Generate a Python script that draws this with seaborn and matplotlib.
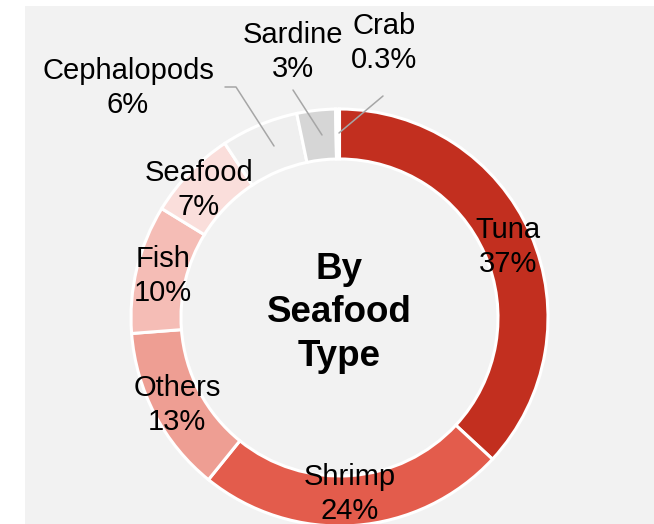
import matplotlib
matplotlib.use("Agg")
import matplotlib.pyplot as plt
import seaborn as sns

# Seafood share by type, clockwise from 12 o'clock
categories = ["Tuna", "Shrimp", "Others", "Fish", "Seafood", "Cephalopods", "Sardine", "Crab"]
shares = [37, 24, 13, 10, 7, 6, 3, 0.3]
share_labels = ["37%", "24%", "13%", "10%", "7%", "6%", "3%", "0.3%"]

sns.set_style("white")
plt.rcParams["font.family"] = ["Liberation Sans", "DejaVu Sans"]

palette = sns.color_palette(["#c22f1f", "#e35c4c", "#ee9e93", "#f5bdb6",
                             "#fadedb", "#efefef", "#d6d6d6", "#ffffff"])

W, H = 654, 524
fig = plt.figure(figsize=(W / 100, H / 100), dpi=100)
fig.patch.set_facecolor("white")

# grey panel behind the chart
bg = fig.add_axes([25 / W, 0, (W - 25) / W, (H - 6) / H])
bg.set_facecolor("#f2f2f2")
bg.set_xticks([])
bg.set_yticks([])
for s in bg.spines.values():
    s.set_visible(False)

# drawing axes in pixel units (y measured from the top)
ax = fig.add_axes([0, 0, 1, 1])
ax.patch.set_alpha(0)


def py(y):
    return H - y


cx, cy, r_out = 339.5, 317.5, 208.5
ring = 50

ax.pie(shares, colors=palette, startangle=90, counterclock=False,
       radius=r_out, center=(cx, py(cy)),
       wedgeprops=dict(width=ring, edgecolor="white", linewidth=2.2))
ax.set_xlim(0, W)
ax.set_ylim(0, H)
ax.set_aspect("auto")
ax.axis("off")

# label block centres (pixels)
label_pos = {
    "Tuna": (508, 247),
    "Shrimp": (350, 494),
    "Others": (177, 405),
    "Fish": (163, 276),
    "Seafood": (199, 190),
    "Cephalopods": (128, 88),
    "Sardine": (293, 52),
    "Crab": (384, 43),
}
for cat, lab in zip(categories, share_labels):
    x, y = label_pos[cat]
    ax.text(x, py(y), f"{cat}\n{lab}", ha="center", va="center",
            fontsize=21, linespacing=1.3, color="black")

# leader lines for the small slices
leader = "#a6a6a6"
ax.plot([225, 236, 274], [py(87), py(87), py(146)], color=leader, lw=1.1)
ax.plot([293, 322], [py(90), py(135)], color=leader, lw=1.1)
ax.plot([383, 339], [py(96), py(133)], color=leader, lw=1.1)

ax.text(cx, py(313), "By\nSeafood\nType", ha="center", va="center",
        fontsize=26.5, fontweight="bold", linespacing=1.32, color="black")

fig.savefig("out.png", dpi=100)
